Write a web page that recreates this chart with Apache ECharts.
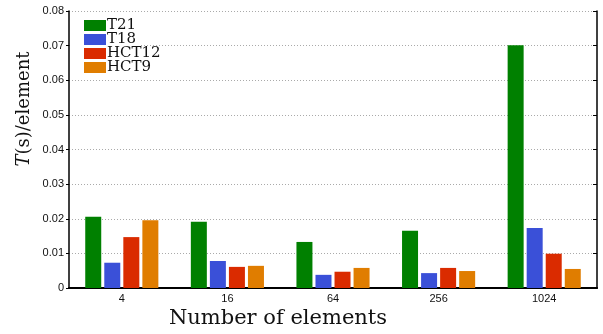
<!DOCTYPE html>
<html><head><meta charset="utf-8">
<script src="https://cdn.jsdelivr.net/npm/echarts@6/dist/echarts.min.js"></script>
<style>html,body{margin:0;padding:0;background:#fff}#c{width:603px;height:334px}</style>
</head><body><div id="c"></div>
<script>
const categories = ['4', '16', '64', '256', '1024'];
const t21 = [0.0206, 0.0191, 0.0133, 0.0165, 0.0701];
const t18 = [0.0073, 0.0078, 0.0038, 0.0043, 0.0173];
const hct12 = [0.0147, 0.0061, 0.0047, 0.0058, 0.0099];
const hct9 = [0.0196, 0.0064, 0.0058, 0.0049, 0.0055];
const seriesNames = ['T21', 'T18', 'HCT12', 'HCT9'];
const colors = ['#008000', '#3a50d8', '#da2b00', '#e07d00'];

const chart = echarts.init(document.getElementById('c'), null, {renderer: 'canvas'});
const dataSets = [t21, t18, hct12, hct9];
const tickFont = {fontFamily: 'Liberation Sans, Arial, sans-serif', fontSize: 11, color: '#111'};
chart.setOption({
  animation: false,
  backgroundColor: '#fff',
  color: colors,
  grid: {left: 69, right: 6, top: 11, bottom: 46},
  legend: {
    orient: 'vertical', left: 79, top: 13,
    itemWidth: 22, itemHeight: 11, itemGap: -1,
    icon: 'rect',
    textStyle: {fontFamily: 'DejaVu Serif, serif', fontSize: 15, color: '#111', padding: [0, 0, 0, -4]},
    data: seriesNames
  },
  xAxis: [{
    type: 'category', data: categories, position: 'bottom',
    axisLine: {lineStyle: {color: '#000', width: 2}},
    axisTick: {inside: true, alignWithLabel: true, length: 4, lineStyle: {color: '#000'}},
    axisLabel: Object.assign({margin: 5}, tickFont),
    splitLine: {show: false}
  }, {
    type: 'category', data: categories, position: 'top',
    axisLine: {lineStyle: {color: '#000', width: 1.5}},
    axisTick: {inside: true, alignWithLabel: true, length: 4, lineStyle: {color: '#000'}},
    axisLabel: {show: false}
  }],
  yAxis: [{
    type: 'value', min: 0, max: 0.08, interval: 0.01, position: 'left',
    axisLine: {show: true, lineStyle: {color: '#000', width: 1.5}},
    axisTick: {show: true, inside: false, length: 3, lineStyle: {color: '#000'}},
    axisLabel: Object.assign({margin: 5}, tickFont),
    splitLine: {show: true, lineStyle: {color: '#aaa', type: [1, 2], width: 1}}
  }, {
    type: 'value', min: 0, max: 0.08, interval: 0.01, position: 'right',
    axisLine: {show: true, lineStyle: {color: '#000', width: 1.5}},
    axisTick: {show: true, inside: true, length: 4, lineStyle: {color: '#000'}},
    axisLabel: {show: false},
    splitLine: {show: false}
  }],
  series: seriesNames.map((n, i) => ({
    name: n, type: 'bar', data: dataSets[i], xAxisIndex: 0, yAxisIndex: 0,
    barWidth: 16, barGap: '19%', itemStyle: {color: colors[i]}
  })),
  graphic: [{
    type: 'rect', z: 1, shape: {x: 70, y: 12, width: 69, height: 66},
    style: {fill: '#fff'}
  }, {
    type: 'text', x: 278, y: 319,
    style: {text: 'Number of elements', font: '21px "DejaVu Serif", serif', fill: '#111',
      align: 'center', verticalAlign: 'middle'}
  }, {
    type: 'text', x: 24, y: 109, rotation: Math.PI / 2,
    style: {text: '{it|T}(s)/element', font: '18px "DejaVu Serif", serif', fill: '#111',
      align: 'center', verticalAlign: 'middle',
      rich: {it: {fontStyle: 'italic', fontFamily: 'DejaVu Serif', fontSize: 18, fill: '#111'}}}
  }]
});
</script></body></html>
